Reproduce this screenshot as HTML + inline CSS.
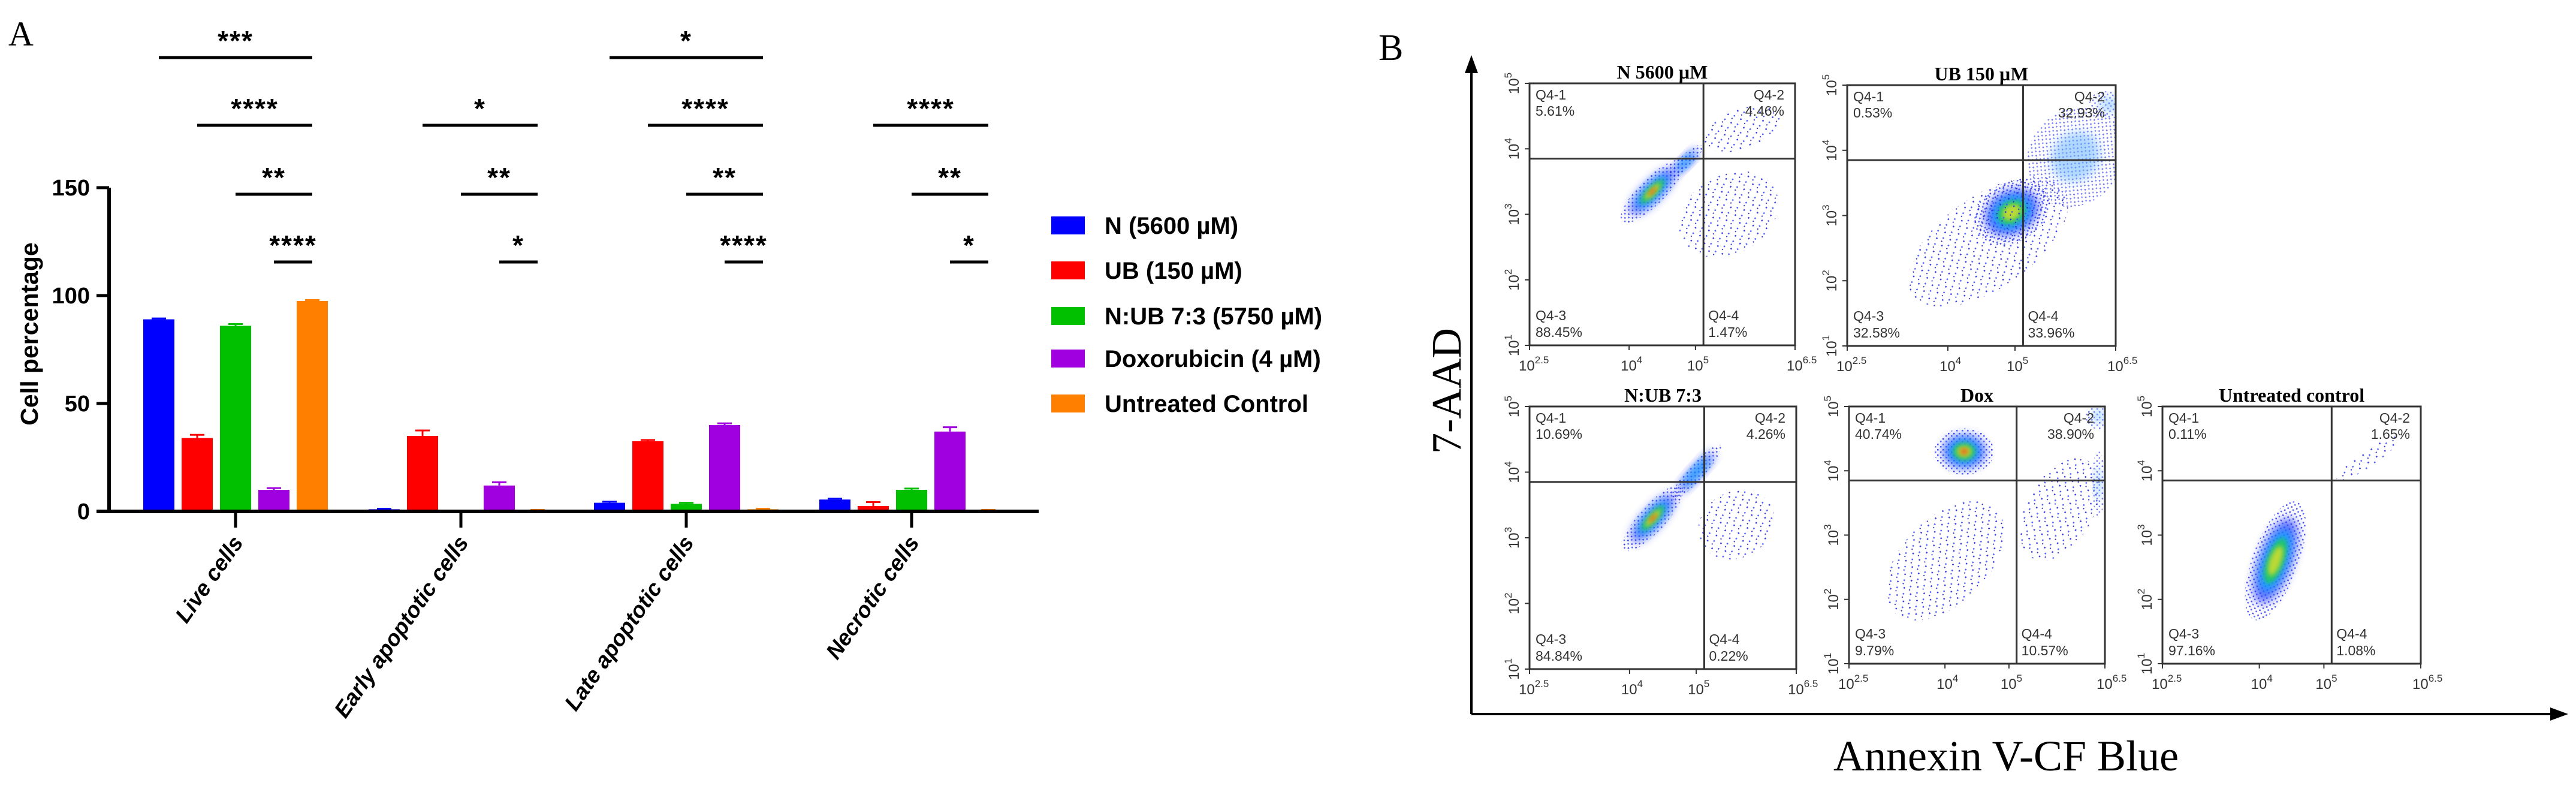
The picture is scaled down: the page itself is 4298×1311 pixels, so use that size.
<!DOCTYPE html>
<html><head><meta charset="utf-8"><style>
html,body{margin:0;padding:0;background:#fff;}
svg{display:block;}
.nar{font-family:"Liberation Sans Narrow","Liberation Sans",sans-serif;font-stretch:condensed;}
.ser{font-family:"Liberation Serif",serif;}
</style></head><body>
<svg id="fig" width="4298" height="1311" viewBox="0 0 4298 1311" xmlns="http://www.w3.org/2000/svg">
<defs>
<filter id="blur" x="-50%" y="-50%" width="200%" height="200%"><feGaussianBlur stdDeviation="8"/></filter>
<filter id="blur2" x="-50%" y="-50%" width="200%" height="200%"><feGaussianBlur stdDeviation="4"/></filter>
<pattern id="dots" width="9" height="9" patternUnits="userSpaceOnUse"><rect x="1" y="2" width="2.5" height="2.5" fill="#2020e0"/><rect x="6" y="6" width="2.5" height="2.5" fill="#3040ff"/></pattern>
<pattern id="sparse" width="17" height="15" patternUnits="userSpaceOnUse"><rect x="2" y="3" width="2.5" height="2.5" fill="#2828e0"/><rect x="11" y="9" width="2.5" height="2.5" fill="#4050ff"/><rect x="6" y="12" width="2" height="2" fill="#2020c0"/></pattern>
</defs>
<g id="panelA"></g>
<g id="panelB"></g>
</svg>
<script>
// ---------- Panel A data ----------
const categories = ["Live cells","Early apoptotic cells","Late apoptotic cells","Necrotic cells"];
const seriesNames = ["N (5600 µM)","UB (150 µM)","N:UB 7:3 (5750 µM)","Doxorubicin (4 µM)","Untreated Control"];
const seriesColors = ["#0000ff","#ff0000","#00c000","#a000e0","#ff8000"];
const valN   = [89, 1, 4, 5.5];
const valUB  = [34, 35, 32.5, 2.5];
const valNUB = [86, 0.3, 3.5, 10];
const valDox = [10, 12, 40, 37];
const valUC  = [97.5, 0.5, 1, 0.5];
const errN   = [0.4, 0.2, 0.5, 0.4];
const errUB  = [1.5, 2.5, 0.6, 1.8];
const errNUB = [0.8, 0.1, 0.5, 0.6];
const errDox = [0.8, 1.5, 0.8, 2];
const errUC  = [0.4, 0.2, 0.2, 0.2];
const yTicks = [0, 50, 100, 150];
const sigCat  = [0,1,2,3, 0,1,2,3, 0,2, 0,1,2,3];
const sigFrom = [3,3,3,3, 2,2,2,2, 0,0, 1,1,1,1];
const sigRow  = [3,3,3,3, 2,2,2,2, 0,0, 1,1,1,1];
const sigText = ["****","*","****","*", "**","**","**","**", "***","*", "****","*","****","****"];

const NS="http://www.w3.org/2000/svg";
function mk(parent,tag,attrs,text){const e=document.createElementNS(NS,tag);for(const k in attrs)e.setAttribute(k,attrs[k]);if(text!==undefined)e.textContent=text;parent.appendChild(e);return e;}

const A=document.getElementById('panelA');
const y0=853, pxPer=3.6;
const yS=v=>y0-v*pxPer;
const gC=i=>393+i*376;
const barW=52, pitch=64;
const bx=(c,s)=>gC(c)+(s-2)*pitch;

let t=mk(A,'text',{x:14,y:76,'font-size':58,class:'ser'},'A');



const vals=[valN,valUB,valNUB,valDox,valUC];
const errs=[errN,errUB,errNUB,errDox,errUC];
for(let s=0;s<5;s++){
  for(let c=0;c<4;c++){
    const v=vals[s][c], e=errs[s][c], cx=bx(c,s);
    const r=mk(A,'rect',{x:cx-barW/2,y:yS(v),width:barW,height:y0-yS(v),fill:seriesColors[s]});
    
    
    const eb=mk(A,'path',{d:`M${cx},${yS(v)} V${yS(v+e)} M${cx-12},${yS(v+e)} H${cx+12}`,stroke:seriesColors[s],'stroke-width':3,fill:'none'});
    
    
  }
}
let ax=mk(A,'path',{d:`M182,${yS(150)} V${y0+3} M161,${y0} H1733`,stroke:'#000','stroke-width':6,fill:'none'});


yTicks.forEach(v=>{
  mk(A,'line',{x1:161,x2:182,y1:yS(v),y2:yS(v),stroke:'#000','stroke-width':5});
  const tl=mk(A,'text',{x:150,y:yS(v)+13,'text-anchor':'end','font-size':38,'font-weight':'bold',class:'nar'},String(v));
  
  
});
categories.forEach((c,i)=>{
  mk(A,'line',{x1:gC(i),x2:gC(i),y1:y0,y2:880,stroke:'#000','stroke-width':5});
  const tl=mk(A,'text',{x:gC(i)+14,y:905,'text-anchor':'end','font-size':37,'font-weight':'bold','font-style':'italic',transform:`rotate(-55 ${gC(i)+14} 905)`,class:'nar'},c);
  
  
});
t=mk(A,'text',{x:0,y:0,'text-anchor':'middle','font-size':41,'font-weight':'bold',transform:'translate(63 557) rotate(-90)','font-family':'Liberation Sans, sans-serif'},'Cell percentage');


const rowY=[96,209,324,437];
for(let k=0;k<sigCat.length;k++){
  const x1=bx(sigCat[k],sigFrom[k]), x2=bx(sigCat[k],4);
  const y=rowY[sigRow[k]];
  const l=mk(A,'line',{x1:x1,x2:x2,y1:y,y2:y,stroke:'#000','stroke-width':5});
  
  
  const st=mk(A,'text',{x:(x1+x2)/2,y:y-12,'text-anchor':'middle','font-size':46,'font-weight':'bold',class:'nar','letter-spacing':'2'},sigText[k]);
  
  
}
const legY=[376,451,527,598,673];
seriesNames.forEach((n,i)=>{
  const g=mk(A,'g',{});
  
  
  mk(g,'rect',{x:1754,y:legY[i]-15,width:56,height:30,fill:seriesColors[i]});
  mk(g,'text',{x:1843,y:legY[i]+14,'font-size':40,'font-weight':'bold',class:'nar'},n);
});

// ---------- Panel B ----------
const plotTitles=["N 5600 µM","UB 150 µM","N:UB 7:3","Dox","Untreated control"];
const boxL=[2552,3082,2552,3085,3608];
const boxT=[139,142,678,678,678];
const boxR=[2995,3530,2997,3512,4039];
const boxB=[576,577,1116,1107,1107];
const gateX=[5.12,5.12,5.12,5.12,5.12];
const gateY=[3.85,3.85,3.85,3.85,3.85];
const q1=["5.61%","0.53%","10.69%","40.74%","0.11%"];
const q2=["4.46%","32.93%","4.26%","38.90%","1.65%"];
const q3=["88.45%","32.58%","84.84%","9.79%","97.16%"];
const q4=["1.47%","33.96%","0.22%","10.57%","1.08%"];
const clPlot=[0,0,0,0, 1,1,1,1, 2,2,2, 3,3,3,3,3, 4,4];
const clX=[4.35,4.85,5.5,5.7, 4.95,4.6,5.9,6.4, 4.35,5.0,5.6, 4.3,4.0,5.8,6.4,6.4, 4.25,5.7];
const clY=[3.35,3.8,3.0,4.3, 3.05,2.6,3.9,4.7, 3.3,4.0,3.2, 4.3,2.6,3.4,3.8,4.85, 2.6,4.2];
const clRX=[0.65,0.35,0.8,0.6, 0.6,1.4,0.8,0.2, 0.65,0.55,0.6, 0.45,1.1,0.85,0.5,0.2, 0.95,0.6];
const clRY=[0.2,0.1,0.6,0.3, 0.45,0.7,0.7,0.3, 0.2,0.12,0.5, 0.35,0.65,0.5,0.1,0.2, 0.35,0.12];
const clAng=[-45,-45,-30,-20, -30,-35,-50,-80, -48,-48,-30, 0,-45,-60,-90,0, -70,-35];
const clD=[1.0,0.5,0.1,0.1, 0.85,0.15,0.35,0.4, 1.0,0.55,0.05, 1.0,0.2,0.25,0.45,0.4, 0.9,0.15];
const xTickLbl=[["10","2.5"],["10","4"],["10","5"],["10","6.5"]];
const xTickVal=[2.5,4,5,6.5];
const yTickVal=[1,2,3,4,5];

const B=document.getElementById('panelB');
t=mk(B,'text',{x:2300,y:100,'font-size':62,class:'ser'},'B');


const ar=mk(B,'path',{d:'M2455,1191 V110 M2455,1191 H4265',stroke:'#000','stroke-width':4,fill:'none'});


mk(B,'path',{d:'M2455,92 L2444,122 L2466,122 Z',fill:'#000'});
mk(B,'path',{d:'M4285,1191 L4255,1180 L4255,1202 Z',fill:'#000'});
t=mk(B,'text',{x:0,y:0,'text-anchor':'middle','font-size':70,class:'ser',transform:'translate(2437 652) rotate(-90)'},'7-AAD');


t=mk(B,'text',{x:3347,y:1285,'text-anchor':'middle','font-size':72,class:'ser'},'Annexin V-CF Blue');



const layerCol=["url(#dots)","#2a3cff","#00b8ff","#20d040","#f0e020","#ff3010"];
const layerSc=[1.0,0.72,0.52,0.38,0.25,0.13];
for(let p=0;p<5;p++){
  const L=boxL[p],T=boxT[p],R=boxR[p],Bt=boxB[p];
  const sx=v=>L+(v-2.5)/4*(R-L);
  const sy=v=>Bt-(v-1)/4*(Bt-T);
  const g=mk(B,'g',{});
  
  
  const cid='clip'+p;
  const cp=mk(g,'clipPath',{id:cid});mk(cp,'rect',{x:L,y:T,width:R-L,height:Bt-T});
  const dg=mk(g,'g',{'clip-path':`url(#${cid})`});
  for(let k=0;k<clPlot.length;k++){
    if(clPlot[k]!==p)continue;
    const cx=sx(clX[k]),cy=sy(clY[k]),rx=clRX[k]*110,ry=clRY[k]*110;
    const cg=mk(dg,'g',{transform:`rotate(${clAng[k]} ${cx} ${cy})`});
    
    
    const d=clD[k];
    if(d<0.3){
      mk(cg,'ellipse',{cx:cx,cy:cy,rx:rx,ry:ry,fill:'url(#sparse)',opacity:0.9});
    } else if(d<0.5){
      mk(cg,'ellipse',{cx:cx,cy:cy,rx:rx,ry:ry,fill:'url(#dots)',opacity:0.6});
      mk(cg,'ellipse',{cx:cx,cy:cy,rx:rx*0.5,ry:ry*0.5,fill:'#60b0ff',opacity:0.5,filter:'url(#blur)'});
    } else {
      const nl=Math.round(d*6);
      for(let li=0;li<nl;li++){
        mk(cg,'ellipse',{cx:cx,cy:cy,rx:rx*layerSc[li],ry:ry*layerSc[li],fill:layerCol[li],opacity:li==0?0.8:0.75,filter:li==0?'none':(li<3?'url(#blur)':'url(#blur2)')});
      }
    }
  }
  mk(g,'rect',{x:L,y:T,width:R-L,height:Bt-T,fill:'none',stroke:'#333','stroke-width':3});
  mk(g,'line',{x1:sx(gateX[p]),x2:sx(gateX[p]),y1:T,y2:Bt,stroke:'#333','stroke-width':3});
  mk(g,'line',{x1:L,x2:R,y1:sy(gateY[p]),y2:sy(gateY[p]),stroke:'#333','stroke-width':3});
  const tt=mk(g,'text',{x:(L+R)/2,y:T-8,'text-anchor':'middle','font-size':32,'font-weight':'bold',class:'ser'},plotTitles[p]);
  
  
  const fs=23,c='#333';
  mk(g,'text',{x:L+10,y:T+27,'font-size':fs,fill:c,class:'nar'},'Q4-1');
  mk(g,'text',{x:L+10,y:T+54,'font-size':fs,fill:c,class:'nar'},q1[p]);
  mk(g,'text',{x:R-18,y:T+27,'font-size':fs,fill:c,class:'nar','text-anchor':'end'},'Q4-2');
  mk(g,'text',{x:R-18,y:T+54,'font-size':fs,fill:c,class:'nar','text-anchor':'end'},q2[p]);
  mk(g,'text',{x:L+10,y:Bt-42,'font-size':fs,fill:c,class:'nar'},'Q4-3');
  mk(g,'text',{x:L+10,y:Bt-14,'font-size':fs,fill:c,class:'nar'},q3[p]);
  mk(g,'text',{x:sx(gateX[p])+8,y:Bt-42,'font-size':fs,fill:c,class:'nar'},'Q4-4');
  mk(g,'text',{x:sx(gateX[p])+8,y:Bt-14,'font-size':fs,fill:c,class:'nar'},q4[p]);
  xTickVal.forEach((v,i)=>{
    mk(g,'line',{x1:sx(v),x2:sx(v),y1:Bt,y2:Bt+8,stroke:'#333','stroke-width':2});
    const tx=mk(g,'text',{x:sx(v)-(i==0?18:14),y:Bt+42,'font-size':24,fill:c,class:'nar'});
    
    
    mk(tx,'tspan',{},xTickLbl[i][0]);
    mk(tx,'tspan',{dy:-12,'font-size':17},xTickLbl[i][1]);
  });
  yTickVal.forEach(v=>{
    mk(g,'line',{x1:L-8,x2:L,y1:sy(v),y2:sy(v),stroke:'#333','stroke-width':2});
    const ty=mk(g,'text',{x:0,y:0,'font-size':24,fill:c,class:'nar','text-anchor':'middle',transform:`translate(${L-18} ${sy(v)}) rotate(-90)`});
    
    
    mk(ty,'tspan',{},'10');
    mk(ty,'tspan',{dy:-12,'font-size':17},String(v));
  });
}
</script>
</body></html>
